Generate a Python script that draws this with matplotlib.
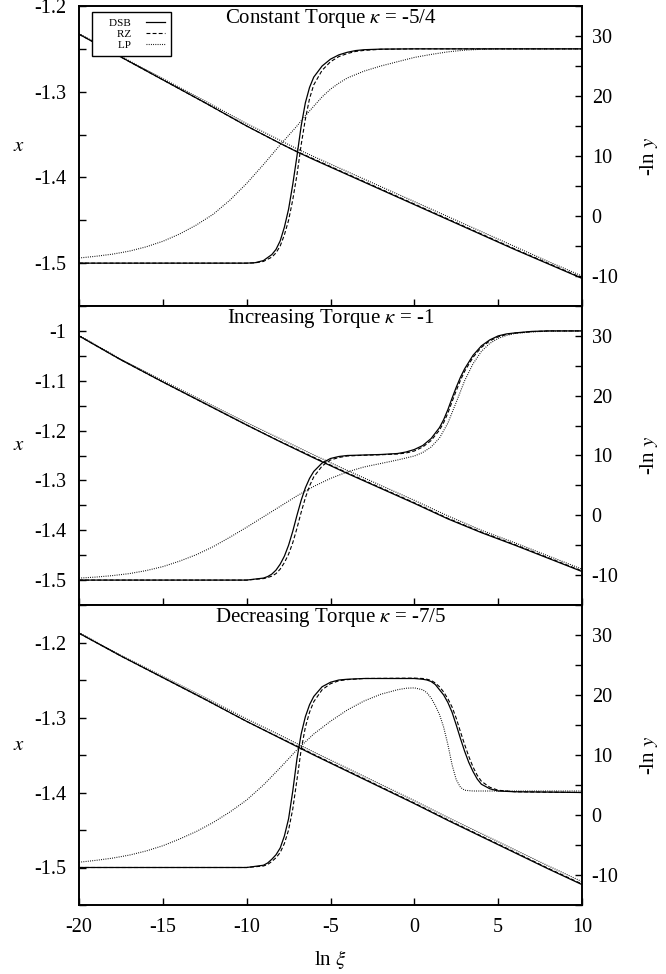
import matplotlib
matplotlib.use("Agg")
import matplotlib.pyplot as plt
from matplotlib.ticker import MultipleLocator, FuncFormatter

plt.rcParams['font.family'] = ['Liberation Serif', 'DejaVu Serif']
plt.rcParams['mathtext.fontset'] = 'stix'
plt.rcParams['axes.unicode_minus'] = False

# ---------------- data: top panel (constant torque) ----------------
top_t_dsb = [-20, -12, -10, -9.5, -9, -8.5, -8.25, -8, -7.75, -7.5, -7.25, -7, -6.75, -6.5, -6.25, -6, -5.5, -5, -4.5, -4, -3.5, -3, -2, 0, 10]
top_x_dsb = [-1.5, -1.5, -1.5, -1.4995, -1.497, -1.49, -1.484, -1.474, -1.458, -1.437, -1.408, -1.375, -1.34, -1.313, -1.295, -1.283, -1.27, -1.262, -1.257, -1.254, -1.252, -1.251, -1.2503, -1.25, -1.25]
top_x_rz = [-1.5, -1.5, -1.5, -1.4997, -1.498, -1.493, -1.488, -1.48, -1.467, -1.45, -1.426, -1.397, -1.362, -1.332, -1.308, -1.292, -1.275, -1.265, -1.259, -1.2555, -1.253, -1.2518, -1.2505, -1.25, -1.25]
top_t_lp = [-20, -19, -18, -17, -16, -15, -14, -13, -12, -11, -10, -9, -8, -7, -6.5, -6, -5.5, -5, -4.5, -4, -3, -2, -1, 0, 1, 2, 3, 4, 5, 10]
top_x_lp = [-1.494, -1.492, -1.4895, -1.486, -1.481, -1.4745, -1.466, -1.4555, -1.443, -1.4265, -1.407, -1.385, -1.362, -1.34, -1.328, -1.317, -1.306, -1.297, -1.29, -1.284, -1.276, -1.27, -1.265, -1.26, -1.2565, -1.2535, -1.2515, -1.2505, -1.25, -1.25]
top_t_y = [-20, -17.5, -15, -12.5, -10, -8, -7, -6, -4, -2, 0, 2, 4, 6, 8, 10]
top_y_dsb = [30.3, 26.5, 22.7, 18.9, 15.0, 12.1, 10.7, 9.4, 6.9, 4.4, 1.9, -0.6, -3.1, -5.6, -8.0, -10.4]
top_y_rz = [30.3, 26.5, 22.7, 18.9, 15.0, 12.1, 10.75, 9.5, 7.0, 4.5, 2.0, -0.5, -3.0, -5.5, -7.9, -10.3]
top_y_lp = [30.4, 26.6, 22.9, 19.2, 15.4, 12.6, 11.2, 9.9, 7.4, 4.9, 2.4, -0.1, -2.6, -5.1, -7.6, -10.0]

# ---------------- data: middle panel (increasing torque) ----------------
mid_t_dsb = [-20, -12, -10, -9, -8.75, -8.5, -8.25, -8, -7.75, -7.5, -7.25, -7, -6.75, -6.5, -6.25, -6, -5.5, -5, -4.5, -4, -3, -2, -1, -0.5, 0, 0.5, 1, 1.5, 1.75, 2, 2.25, 2.5, 2.75, 3, 3.5, 4, 4.5, 5, 5.5, 6, 7, 8, 10]
mid_x_dsb = [-1.5, -1.5, -1.5, -1.496, -1.493, -1.488, -1.48, -1.468, -1.452, -1.43, -1.402, -1.37, -1.34, -1.315, -1.296, -1.282, -1.265, -1.256, -1.252, -1.25, -1.249, -1.248, -1.246, -1.243, -1.238, -1.23, -1.216, -1.194, -1.178, -1.158, -1.135, -1.113, -1.093, -1.076, -1.049, -1.03, -1.018, -1.01, -1.006, -1.004, -1.001, -1.0, -1.0]
mid_x_rz = [-1.5, -1.5, -1.5, -1.497, -1.495, -1.492, -1.487, -1.478, -1.465, -1.448, -1.425, -1.396, -1.364, -1.335, -1.311, -1.293, -1.271, -1.259, -1.254, -1.251, -1.2495, -1.2485, -1.247, -1.245, -1.241, -1.233, -1.22, -1.199, -1.184, -1.165, -1.142, -1.12, -1.099, -1.081, -1.053, -1.033, -1.02, -1.012, -1.007, -1.0045, -1.0015, -1.0, -1.0]
mid_t_lp = [-20, -19, -18, -17, -16, -15, -14, -13, -12, -11, -10, -9, -8, -7, -6, -5, -4, -3, -2, -1, 0, 0.5, 1, 1.5, 2, 2.5, 3, 3.5, 4, 4.5, 5, 5.5, 6, 7, 8, 10]
mid_x_lp = [-1.496, -1.494, -1.491, -1.487, -1.481, -1.473, -1.462, -1.449, -1.433, -1.414, -1.394, -1.373, -1.352, -1.331, -1.312, -1.296, -1.283, -1.273, -1.266, -1.259, -1.251, -1.244, -1.233, -1.215, -1.185, -1.143, -1.1, -1.066, -1.041, -1.025, -1.015, -1.009, -1.005, -1.002, -1.0005, -1.0]
mid_t_y = [-20, -17.5, -15, -12.5, -10, -8, -6, -4, -2, 0, 2, 4, 6, 8, 10]
mid_y_dsb = [30.0, 26.0, 22.3, 18.7, 15.1, 12.3, 9.6, 7.0, 4.5, 2.0, -0.6, -2.9, -5.0, -7.2, -9.4]
mid_y_rz = [30.0, 26.0, 22.3, 18.7, 15.1, 12.35, 9.7, 7.1, 4.6, 2.1, -0.5, -2.8, -4.9, -7.1, -9.3]
mid_y_lp = [30.1, 26.1, 22.5, 19.0, 15.5, 12.8, 10.1, 7.5, 5.0, 2.5, -0.1, -2.5, -4.6, -6.8, -9.0]

# ---------------- data: bottom panel (decreasing torque) ----------------
bot_t_dsb = [-20, -12, -10, -9, -8.75, -8.5, -8.25, -8, -7.75, -7.5, -7.25, -7, -6.75, -6.5, -6.25, -6, -5.5, -5, -4.5, -4, -3, 0, 0.5, 0.75, 1, 1.25, 1.5, 1.75, 2, 2.25, 2.5, 2.75, 3, 3.25, 3.5, 3.75, 4, 4.5, 5, 6, 10]
bot_x_dsb = [-1.5, -1.5, -1.5, -1.497, -1.494, -1.489, -1.483, -1.474, -1.458, -1.435, -1.398, -1.355, -1.322, -1.299, -1.283, -1.272, -1.259, -1.253, -1.25, -1.249, -1.248, -1.248, -1.249, -1.25, -1.252, -1.256, -1.263, -1.27, -1.28, -1.293, -1.31, -1.328, -1.345, -1.36, -1.372, -1.382, -1.389, -1.395, -1.398, -1.399, -1.4]
bot_x_rz = [-1.5, -1.5, -1.5, -1.498, -1.496, -1.492, -1.487, -1.48, -1.468, -1.45, -1.422, -1.383, -1.343, -1.313, -1.293, -1.279, -1.263, -1.255, -1.251, -1.2495, -1.248, -1.2475, -1.248, -1.249, -1.2505, -1.254, -1.259, -1.266, -1.275, -1.286, -1.301, -1.319, -1.336, -1.352, -1.366, -1.377, -1.385, -1.393, -1.397, -1.399, -1.4]
bot_t_lp = [-20, -19, -18, -17, -16, -15, -14, -13, -12, -11, -10, -9, -8, -7, -6, -5, -4, -3, -2, -1, -0.5, 0, 0.5, 0.75, 1, 1.25, 1.5, 1.75, 2, 2.25, 2.5, 2.75, 3, 3.5, 10]
bot_x_lp = [-1.493, -1.4905, -1.4875, -1.4835, -1.478, -1.471, -1.462, -1.452, -1.44, -1.426, -1.41, -1.39, -1.367, -1.343, -1.322, -1.305, -1.29, -1.278, -1.269, -1.263, -1.261, -1.2605, -1.263, -1.267, -1.274, -1.284, -1.296, -1.313, -1.336, -1.363, -1.383, -1.393, -1.397, -1.398, -1.398]
bot_t_y = [-20, -17.5, -15, -12.5, -10, -8, -7, -6, -4, -2, 0, 2, 4, 6, 8, 10]
bot_y_dsb = [30.3, 26.5, 22.9, 19.3, 15.6, 12.8, 11.4, 10.0, 7.3, 4.6, 1.9, -0.9, -3.6, -6.3, -9.0, -11.6]
bot_y_rz = [30.3, 26.5, 22.9, 19.3, 15.6, 12.85, 11.5, 10.1, 7.4, 4.7, 2.0, -0.8, -3.5, -6.2, -8.9, -11.5]
bot_y_lp = [30.4, 26.6, 23.1, 19.6, 16.0, 13.3, 11.9, 10.5, 7.8, 5.1, 2.4, -0.4, -3.1, -5.8, -8.5, -11.1]

titles = [r'Constant Torque $\kappa$ = -5/4', r'Increasing Torque $\kappa$ = -1', r'Decreasing Torque $\kappa$ = -7/5']
series_names = ['DSB', 'RZ', 'LP']
left_limits = [(-1.55, -1.2), (-1.55, -0.95), (-1.55, -1.15)]
right_limits = [(-15, 35), (-15, 35), (-15, 35)]
xticks = [-20, -15, -10, -5, 0, 5, 10]

panels = [
    (top_t_dsb, top_x_dsb, top_x_rz, top_t_lp, top_x_lp, top_t_y, top_y_dsb, top_y_rz, top_y_lp),
    (mid_t_dsb, mid_x_dsb, mid_x_rz, mid_t_lp, mid_x_lp, mid_t_y, mid_y_dsb, mid_y_rz, mid_y_lp),
    (bot_t_dsb, bot_x_dsb, bot_x_rz, bot_t_lp, bot_x_lp, bot_t_y, bot_y_dsb, bot_y_rz, bot_y_lp),
]

styles = [dict(ls='-', lw=0.9), dict(ls=(0, (3.5, 2)), lw=0.8), dict(ls=(0, (0.8, 1.2)), lw=0.8)]

fig = plt.figure(figsize=(6.66, 9.74), dpi=100)
W, H = 666.0, 974.0
left_px, right_px = 79, 582
tops = [6, 306, 605]
bots = [306, 605, 905]

for i, p in enumerate(panels):
    t_d, x_d, x_r, t_l, x_l, t_y, y_d, y_r, y_l = p
    ax = fig.add_axes([left_px / W, 1 - bots[i] / H, (right_px - left_px) / W, (bots[i] - tops[i]) / H])
    ax2 = ax.twinx()
    h1, = ax.plot(t_d, x_d, color='black', solid_joinstyle='round', **styles[0])
    h2, = ax.plot(t_d, x_r, color='black', **styles[1])
    h3, = ax.plot(t_l, x_l, color='black', **styles[2])
    ax2.plot(t_y, y_d, color='black', **styles[0])
    ax2.plot(t_y, y_r, color='black', **styles[1])
    ax2.plot(t_y, y_l, color='black', **styles[2])

    ax.set_xlim(-20, 10)
    ax.set_ylim(*left_limits[i])
    ax2.set_ylim(*right_limits[i])
    ax.set_xticks(xticks)
    ax.yaxis.set_major_locator(MultipleLocator(0.1))
    ax.yaxis.set_minor_locator(MultipleLocator(0.05))
    ax2.yaxis.set_minor_locator(MultipleLocator(5))
    ax2.set_yticks([-10, 0, 10, 20, 30])

    ax.tick_params(axis='x', which='both', direction='in', length=5, width=1, top=False, bottom=True,
                   labelbottom=(i == 2), labelsize=14.5, pad=9)
    ax.tick_params(axis='y', which='both', direction='in', length=5, width=1, left=True, right=False,
                   labelsize=14.5, pad=9)
    ax2.tick_params(axis='y', which='both', direction='in', length=5, width=1, right=True, left=False,
                    labelsize=14.5, pad=7)
    ax.yaxis.set_major_formatter(FuncFormatter(lambda v, pos: ('%g' % round(v, 2))))

    for a in (ax, ax2):
        for s in a.spines.values():
            s.set_linewidth(1.2)

    ax.set_ylabel(r'$x$', fontsize=15, rotation=0)
    ax.yaxis.set_label_coords(-0.12, 0.5)
    ax2.set_ylabel(r'-ln $y$', fontsize=15, rotation=90)
    ax2.yaxis.set_label_coords(1.112, 0.5)

    ax.text(0.5, 0.958, titles[i], transform=ax.transAxes, ha='center', va='center', fontsize=15)

    if i == 2:
        ax.set_xlabel(r'ln $\xi$', fontsize=15, labelpad=8)
    if i == 0:
        leg = ax2.legend([h1, h2, h3], ['    ' + s for s in series_names], loc='upper left',
                         bbox_to_anchor=(0.026, 0.98), borderaxespad=0, markerfirst=False, fontsize=8,
                         handlelength=1.7, handletextpad=1.35, labelspacing=0.12, borderpad=0.55,
                         fancybox=False, framealpha=1, edgecolor='black')
        leg.get_frame().set_linewidth(1.0)

fig.savefig('out.png', dpi=100)
